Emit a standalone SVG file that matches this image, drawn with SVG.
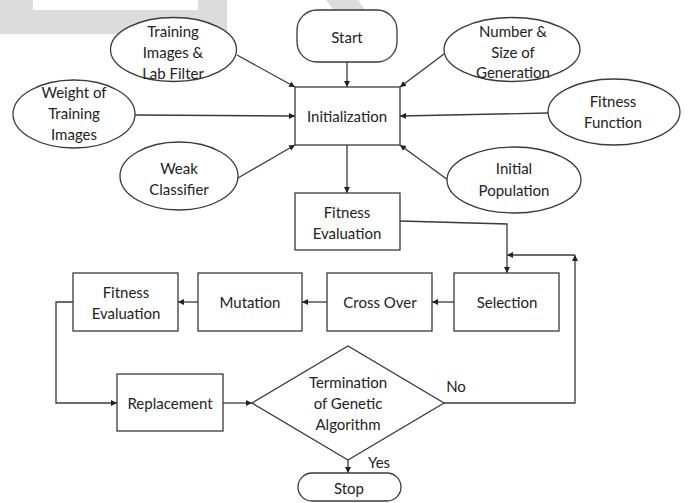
<svg xmlns="http://www.w3.org/2000/svg" width="689" height="503" viewBox="0 0 689 503">
<style>
.shape{fill:#fff;stroke:#3a3a3a;stroke-width:1.3}
.t{font-family:Lato,"Open Sans","Liberation Sans",sans-serif;font-size:15px;fill:#222;text-anchor:middle;dominant-baseline:central}
.c{fill:none;stroke:#3a3a3a;stroke-width:1.3}
.wm{fill:#dcdcdc;stroke:none}
</style>
<defs>
<marker id="ah" markerUnits="userSpaceOnUse" markerWidth="7" markerHeight="6" refX="6" refY="3" orient="auto">
<path d="M0,0 L6,3 L0,6 z" fill="#222"/>
</marker>
</defs>
<rect width="689" height="503" fill="#fff"/>
<g id="watermark">
<path class="wm" d="M0,0 H33 V10 H198 V0 H227 V34 H0 Z"/>
<path class="wm" d="M326,0 H358 L382,34 H352 Z"/>
</g>
<g id="connectors">
<line class="c" x1="347" y1="62" x2="347" y2="87" marker-end="url(#ah)"/>
<line class="c" x1="347" y1="145" x2="347" y2="193" marker-end="url(#ah)"/>
<line class="c" x1="237" y1="55" x2="295" y2="87" marker-end="url(#ah)"/>
<line class="c" x1="135" y1="115" x2="295" y2="116" marker-end="url(#ah)"/>
<line class="c" x1="238" y1="178" x2="295" y2="145" marker-end="url(#ah)"/>
<line class="c" x1="444" y1="54" x2="400" y2="87" marker-end="url(#ah)"/>
<line class="c" x1="548" y1="113" x2="400" y2="116" marker-end="url(#ah)"/>
<line class="c" x1="448" y1="180" x2="400" y2="145" marker-end="url(#ah)"/>
<polyline class="c" points="400,221 507,224 507,273" marker-end="url(#ah)"/>
<line class="c" x1="454" y1="302" x2="432" y2="302" marker-end="url(#ah)"/>
<line class="c" x1="327" y1="302" x2="302" y2="302" marker-end="url(#ah)"/>
<line class="c" x1="198" y1="302" x2="178" y2="302" marker-end="url(#ah)"/>
<polyline class="c" points="73,302 56,302 56,403 117,403" marker-end="url(#ah)"/>
<line class="c" x1="223" y1="403" x2="252" y2="403" marker-end="url(#ah)"/>
<polyline class="c" points="444,403 575,403 575,255" marker-end="url(#ah)"/>
<line class="c" x1="575" y1="255" x2="507" y2="255" marker-end="url(#ah)"/>
<line class="c" x1="348" y1="460" x2="348" y2="473" marker-end="url(#ah)"/>
<text class="t" x="456" y="386">No</text>
<text class="t" x="379" y="462">Yes</text>
</g>
<g id="start">
<rect class="shape" x="297" y="10" width="100" height="52" rx="20"/>
<text class="t" x="347" y="37">Start</text>
</g>
<g id="init">
<rect class="shape" x="295" y="87" width="105" height="58"/>
<text class="t" x="347" y="116">Initialization</text>
</g>
<g id="training">
<ellipse class="shape" cx="173.5" cy="49.5" rx="63" ry="32"/>
<text class="t" x="173" y="31">Training</text>
<text class="t" x="173" y="52">Images &amp;</text>
<text class="t" x="173" y="73">Lab Filter</text>
</g>
<g id="weight">
<ellipse class="shape" cx="74" cy="114" rx="61" ry="34"/>
<text class="t" x="74" y="92">Weight of</text>
<text class="t" x="74" y="113">Training</text>
<text class="t" x="74" y="134">Images</text>
</g>
<g id="weak">
<ellipse class="shape" cx="179" cy="176" rx="59" ry="34"/>
<text class="t" x="179" y="168">Weak</text>
<text class="t" x="179" y="189">Classifier</text>
</g>
<g id="number">
<ellipse class="shape" cx="512" cy="49.5" rx="68" ry="32"/>
<text class="t" x="513" y="31">Number &amp;</text>
<text class="t" x="513" y="52">Size of</text>
<text class="t" x="513" y="72">Generation</text>
</g>
<g id="fitfunc">
<ellipse class="shape" cx="614" cy="112" rx="66" ry="33"/>
<text class="t" x="613" y="101">Fitness</text>
<text class="t" x="613" y="122">Function</text>
</g>
<g id="initpop">
<ellipse class="shape" cx="514" cy="180" rx="67" ry="33"/>
<text class="t" x="514" y="168">Initial</text>
<text class="t" x="514" y="190">Population</text>
</g>
<g id="fiteval1">
<rect class="shape" x="295" y="193" width="105" height="57"/>
<text class="t" x="347" y="212">Fitness</text>
<text class="t" x="347" y="233">Evaluation</text>
</g>
<g id="selection">
<rect class="shape" x="454" y="273" width="105" height="58"/>
<text class="t" x="507" y="302">Selection</text>
</g>
<g id="crossover">
<rect class="shape" x="327" y="273" width="105" height="58"/>
<text class="t" x="380" y="302">Cross Over</text>
</g>
<g id="mutation">
<rect class="shape" x="198" y="273" width="104" height="58"/>
<text class="t" x="250" y="302">Mutation</text>
</g>
<g id="fiteval2">
<rect class="shape" x="73" y="273" width="105" height="58"/>
<text class="t" x="126" y="292">Fitness</text>
<text class="t" x="126" y="313">Evaluation</text>
</g>
<g id="replacement">
<rect class="shape" x="117" y="374" width="106" height="57"/>
<text class="t" x="170" y="403">Replacement</text>
</g>
<g id="termination">
<polygon class="shape" points="252,403 348,346 444,403 348,460"/>
<text class="t" x="348" y="382">Termination</text>
<text class="t" x="348" y="403">of Genetic</text>
<text class="t" x="348" y="424">Algorithm</text>
</g>
<g id="stop">
<rect class="shape" x="298" y="473" width="103" height="28" rx="14"/>
<text class="t" x="349" y="488">Stop</text>
</g>
</svg>
